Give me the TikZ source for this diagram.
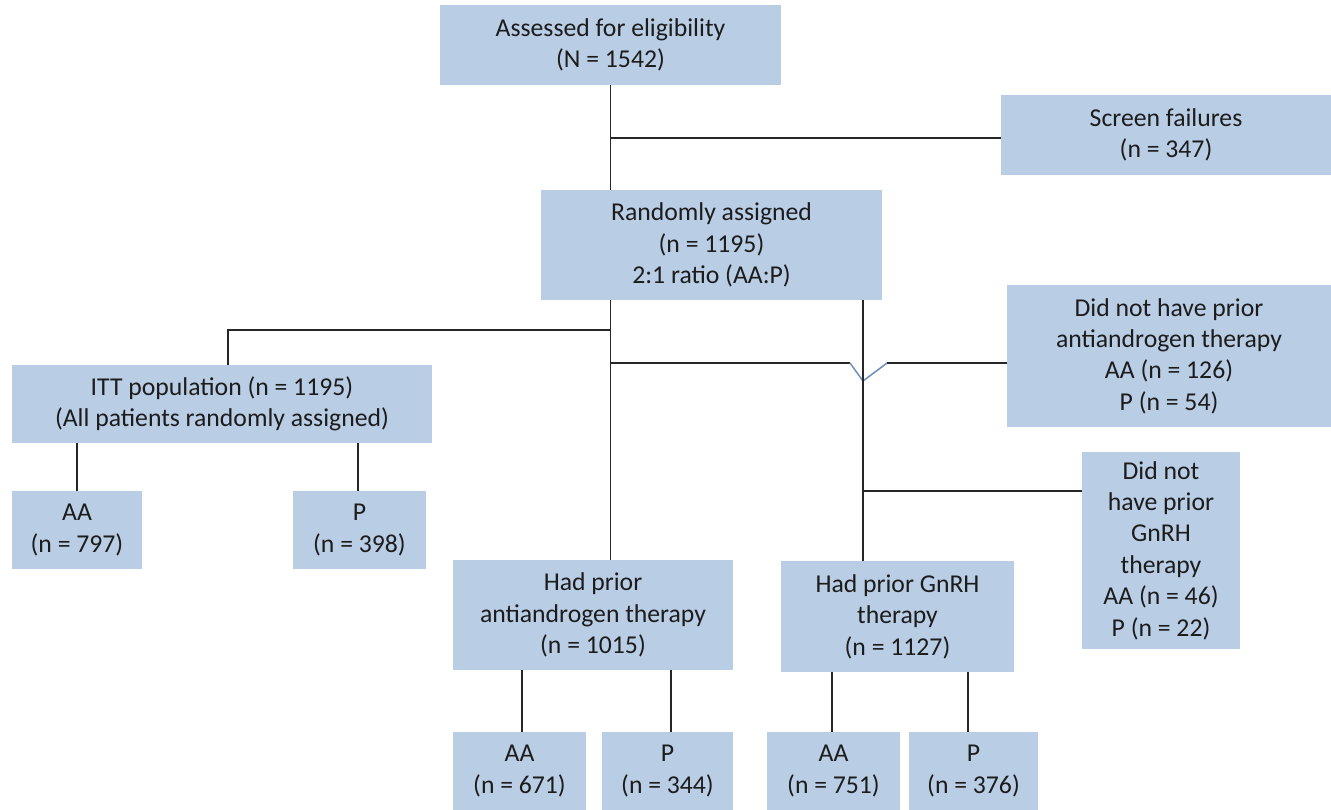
\documentclass[tikz,border=0pt]{standalone}
\usepackage{fontspec}
\setmainfont{Carlito}
\definecolor{boxfill}{HTML}{B9CDE5}
\definecolor{linecol}{HTML}{262626}
\definecolor{txtcol}{HTML}{1C1C1C}
\definecolor{jumpcol}{HTML}{6E8FBA}
\begin{document}
\begin{tikzpicture}[x=1pt,y=-1pt,
  box/.style={fill=boxfill, draw=none, inner sep=0pt, align=center, text=txtcol,
    font=\fontsize{25.7}{31.4}\selectfont},
  conn/.style={draw=linecol, line width=1.5pt},
  jump/.style={draw=jumpcol, line width=1.5pt}]
\useasboundingbox[fill=white] (0,0) rectangle (1331,810);

\node[box, minimum width=341pt, minimum height=80pt] (assess) at (610.5,45) {Assessed for eligibility\\(N = 1542)};
\node[box, minimum width=330pt, minimum height=80pt] (screen) at (1166,135) {Screen failures\\(n = 347)};
\node[box, minimum width=341pt, minimum height=110pt] (rand) at (711.5,245) {Randomly assigned\\(n = 1195)\\2:1 ratio (AA:P)};
\node[box, minimum width=324pt, minimum height=142pt] (noaa) at (1169,356) {Did not have prior\\antiandrogen therapy\\AA (n = 126)\\P (n = 54)};
\node[box, minimum width=420pt, minimum height=78pt] (itt) at (222,404) {ITT population (n = 1195)\\(All patients randomly assigned)};
\node[box, minimum width=130pt, minimum height=78pt] (ittaa) at (77,530) {AA\\(n = 797)};
\node[box, minimum width=133pt, minimum height=78pt] (ittp) at (359.5,530) {P\\(n = 398)};
\node[box, minimum width=158pt, minimum height=197pt] (nognrh) at (1161,550.5) {Did not\\have prior\\GnRH\\therapy\\AA (n = 46)\\P (n = 22)};
\node[box, minimum width=280pt, minimum height=110pt] (hadaa) at (593,615) {Had prior\\antiandrogen therapy\\(n = 1015)};
\node[box, minimum width=233pt, minimum height=111pt] (hadgnrh) at (897.5,616.5) {Had prior GnRH\\therapy\\(n = 1127)};
\node[box, minimum width=133pt, minimum height=78pt] (aa671) at (519.5,771) {AA\\(n = 671)};
\node[box, minimum width=131pt, minimum height=78pt] (p344) at (667.5,771) {P\\(n = 344)};
\node[box, minimum width=133pt, minimum height=78pt] (aa751) at (833.5,771) {AA\\(n = 751)};
\node[box, minimum width=129pt, minimum height=78pt] (p376) at (973.5,771) {P\\(n = 376)};

% junction coordinates
\coordinate (jscreen) at (610,138);
\coordinate (jitt) at (610,330);
\coordinate (jittdown) at (228,330);
\coordinate (jnoaa) at (610,363);
\coordinate (jumpL) at (850,363);
\coordinate (jumpB) at (863,381);
\coordinate (jumpR) at (887,363);
\coordinate (jgnrh) at (863,491);

% main spine
\draw[conn] (assess.south) -- (assess.south |- rand.north);
\draw[conn] (jscreen) -- (jscreen -| screen.west);
\draw[conn] (assess.south |- rand.south) -- (assess.south |- hadaa.north);
\draw[conn] (jitt) -- (jittdown) -- (jittdown |- itt.north);
\draw[conn] (jnoaa) -- (jumpL);
\draw[jump] (jumpL) -- (jumpB) -- (jumpR);
\draw[conn] (jumpR) -- (jumpR -| noaa.west);
\draw[conn] (jumpB |- rand.south) -- (jumpB |- hadgnrh.north);
\draw[conn] (jgnrh) -- (jgnrh -| nognrh.west);

% ITT split
\draw[conn] (77,0 |- itt.south) -- (77,0 |- ittaa.north);
\draw[conn] (358,0 |- itt.south) -- (358,0 |- ittp.north);
% antiandrogen split
\draw[conn] (522,0 |- hadaa.south) -- (522,0 |- aa671.north);
\draw[conn] (671,0 |- hadaa.south) -- (671,0 |- p344.north);
% GnRH split
\draw[conn] (832,0 |- hadgnrh.south) -- (832,0 |- aa751.north);
\draw[conn] (968,0 |- hadgnrh.south) -- (968,0 |- p376.north);
\end{tikzpicture}
\end{document}
